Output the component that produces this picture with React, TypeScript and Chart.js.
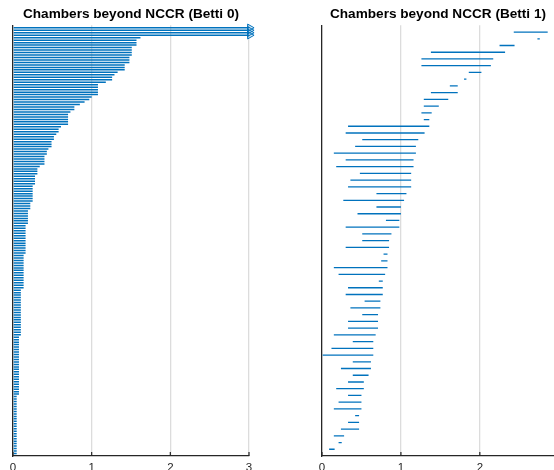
import React, { useEffect, useRef } from "react";
import { Chart, registerables } from "chart.js";

Chart.register(...registerables);

const FONT = "'Liberation Sans', Arial, Helvetica, sans-serif";
const BAR_COLOR = "#0072BD";
const AXIS_COLOR = "#262626";

const titles = ["Chambers beyond NCCR (Betti 0)", "Chambers beyond NCCR (Betti 1)"];

// Betti 0: every bar is born at 0; Infinity marks bars that never die.
const betti0Birth = 0;
const betti0Deaths = [
  Infinity, Infinity, Infinity, Infinity,
  1.62, 1.57, 1.57, 1.57, 1.51, 1.51, 1.51, 1.51, 1.48, 1.48, 1.48,
  1.42, 1.42, 1.42, 1.33, 1.29, 1.26, 1.26, 1.18,
  1.08, 1.08, 1.08, 1.08, 1.08, 1.0, 0.97, 0.91, 0.85, 0.78, 0.78, 0.73,
  0.7, 0.7, 0.7, 0.7, 0.7, 0.61, 0.58, 0.58, 0.55, 0.52, 0.52,
  0.49, 0.49, 0.49, 0.45, 0.43, 0.43, 0.4, 0.4, 0.4, 0.4, 0.34,
  0.31, 0.31, 0.31, 0.28, 0.28, 0.28, 0.28,
  0.25, 0.25, 0.25, 0.25, 0.25, 0.25, 0.25, 0.22, 0.22, 0.22,
  0.19, 0.19, 0.19, 0.19, 0.19, 0.19,
  0.16, 0.16, 0.16, 0.16, 0.16, 0.16, 0.16, 0.16, 0.16, 0.16, 0.16, 0.16,
  0.135, 0.135, 0.135, 0.135, 0.135, 0.135, 0.135, 0.135, 0.135, 0.135, 0.135, 0.135, 0.135, 0.135,
  0.1, 0.1, 0.1, 0.1, 0.1, 0.1, 0.1, 0.1, 0.1, 0.1, 0.1, 0.1, 0.1, 0.1, 0.1, 0.1, 0.1, 0.1, 0.1,
  0.076, 0.076, 0.076, 0.076, 0.076, 0.076, 0.076, 0.076, 0.076, 0.076, 0.076, 0.076,
  0.076, 0.076, 0.076, 0.076, 0.076, 0.076, 0.076, 0.076, 0.076, 0.076, 0.076, 0.076,
  0.047, 0.047, 0.047, 0.047, 0.047, 0.047, 0.047, 0.047, 0.047, 0.047, 0.047, 0.047,
  0.047, 0.047, 0.047, 0.047, 0.047, 0.047, 0.047, 0.047, 0.047, 0.047, 0.047, 0.047,
];

const betti1Births = [
  2.43, 2.73, 2.25, 1.38, 1.26, 1.26, 1.86, 1.8, 1.62, 1.38,
  1.29, 1.29, 1.26, 1.29, 0.33, 0.3, 0.51, 0.42, 0.15, 0.3,
  0.18, 0.48, 0.36, 0.33, 0.69, 0.27, 0.69, 0.45, 0.81, 0.3,
  0.51, 0.51, 0.3, 0.78, 0.75, 0.15, 0.21, 0.72, 0.33, 0.3,
  0.54, 0.36, 0.51, 0.33, 0.33, 0.15, 0.39, 0.12, 0.0, 0.39,
  0.24, 0.39, 0.33, 0.18, 0.33, 0.21, 0.15, 0.42, 0.33, 0.24,
  0.15, 0.21, 0.09,
];
const betti1Deaths = [
  2.86, 2.76, 2.44, 2.32, 2.17, 2.14, 2.02, 1.83, 1.72, 1.72,
  1.6, 1.48, 1.39, 1.36, 1.36, 1.3, 1.22, 1.19, 1.19, 1.16,
  1.16, 1.13, 1.13, 1.13, 1.07, 1.04, 1.0, 1.0, 0.98, 0.98,
  0.88, 0.85, 0.85, 0.83, 0.83, 0.83, 0.8, 0.77, 0.77, 0.77,
  0.74, 0.74, 0.71, 0.71, 0.71, 0.68, 0.65, 0.65, 0.65, 0.62,
  0.62, 0.59, 0.53, 0.53, 0.5, 0.5, 0.5, 0.47, 0.47, 0.47,
  0.28, 0.25, 0.16,
];

const xMaxLeft = 3;
const xMaxRight = 2.94;

const inwardTicks = {
  id: "inwardTicks",
  afterDatasetsDraw(chart: any) {
    const xs = chart.scales.x;
    const { ctx, chartArea } = chart;
    ctx.save();
    ctx.strokeStyle = AXIS_COLOR;
    ctx.lineWidth = 1.2;
    xs.ticks.forEach((t: any) => {
      const px = xs.getPixelForValue(t.value);
      ctx.beginPath();
      ctx.moveTo(px, chartArea.bottom);
      ctx.lineTo(px, chartArea.bottom - 4);
      ctx.stroke();
    });
    ctx.restore();
  },
};

function makeChart(
  canvas: HTMLCanvasElement,
  births: number[],
  deaths: number[],
  xMax: number,
  title: string,
  padLeft: number,
  padRight: number,
  barThickness: number
) {
  const n = deaths.length;
  const bars = deaths.map((d, i) => ({
    x: [births[i], isFinite(d) ? d : xMax],
    y: i + 1,
  }));
  const arrows = deaths
    .map((d, i) => (isFinite(d) ? null : { x: xMax + 0.01, y: i + 1 }))
    .filter((p) => p !== null);

  return new Chart(canvas, {
    type: "bar",
    data: {
      datasets: [
        {
          type: "bar",
          data: bars as any,
          backgroundColor: BAR_COLOR,
          borderWidth: 0,
          barThickness,
          inflateAmount: 0,
          indexAxis: "y",
        } as any,
        {
          type: "scatter",
          data: arrows as any,
          pointStyle: "triangle",
          rotation: 90,
          radius: 4.3,
          borderColor: BAR_COLOR,
          backgroundColor: "rgba(0,114,189,0.15)",
          borderWidth: 1,
          clip: false,
        } as any,
      ],
    },
    options: {
      animation: false,
      responsive: false,
      maintainAspectRatio: false,
      indexAxis: "y",
      events: [],
      layout: { padding: { left: padLeft, right: padRight, top: 0, bottom: 0 } },
      plugins: {
        legend: { display: false },
        tooltip: { enabled: false },
        title: {
          display: true,
          text: title,
          color: "#000",
          font: { family: FONT, size: 13.6, weight: "bold" },
          padding: { top: 6, bottom: 3 },
        },
      },
      scales: {
        x: {
          type: "linear",
          position: "bottom",
          min: 0,
          max: xMax,
          offset: false,
          afterFit: (s: any) => {
            s.height = 14;
          },
          ticks: {
            stepSize: 1,
            includeBounds: false,
            color: AXIS_COLOR,
            font: { family: FONT, size: 11.5 },
            padding: 5,
            maxRotation: 0,
            callback: (v: any) => String(v),
          },
          grid: {
            display: true,
            drawTicks: false,
            offset: false,
            color: (c: any) => (c.tick && c.tick.value === 0 ? "rgba(0,0,0,0)" : "#dcdcdc"),
            lineWidth: 1.3,
          },
          border: { display: true, color: AXIS_COLOR, width: 1.3 },
        },
        y: {
          type: "linear",
          position: "left",
          min: 0,
          max: n + 1,
          reverse: true,
          offset: false,
          z: 1,
          afterFit: (s: any) => {
            s.width = 0;
          },
          ticks: { display: false },
          grid: { display: false, offset: false, drawTicks: false },
          border: { display: true, color: AXIS_COLOR, width: 1.3 },
        },
      },
    } as any,
    plugins: [inwardTicks],
  });
}

export default function App() {
  const leftRef = useRef<HTMLCanvasElement>(null);
  const rightRef = useRef<HTMLCanvasElement>(null);

  useEffect(() => {
    const births0 = betti0Deaths.map(() => betti0Birth);
    const c1 = makeChart(leftRef.current!, births0, betti0Deaths, xMaxLeft, titles[0], 13, 28, 1.5);
    const c2 = makeChart(rightRef.current!, betti1Births, betti1Deaths, xMaxRight, titles[1], 45, 0, 1.3);
    return () => {
      c1.destroy();
      c2.destroy();
    };
  }, []);

  return (
    <div
      style={{
        position: "absolute",
        left: 0,
        top: 0,
        width: 554,
        height: 470,
        display: "flex",
        background: "#fff",
        overflow: "hidden",
      }}
    >
      <canvas ref={leftRef} width={277} height={470} style={{ display: "block", width: 277, height: 470 }} />
      <canvas ref={rightRef} width={277} height={470} style={{ display: "block", width: 277, height: 470 }} />
    </div>
  );
}
